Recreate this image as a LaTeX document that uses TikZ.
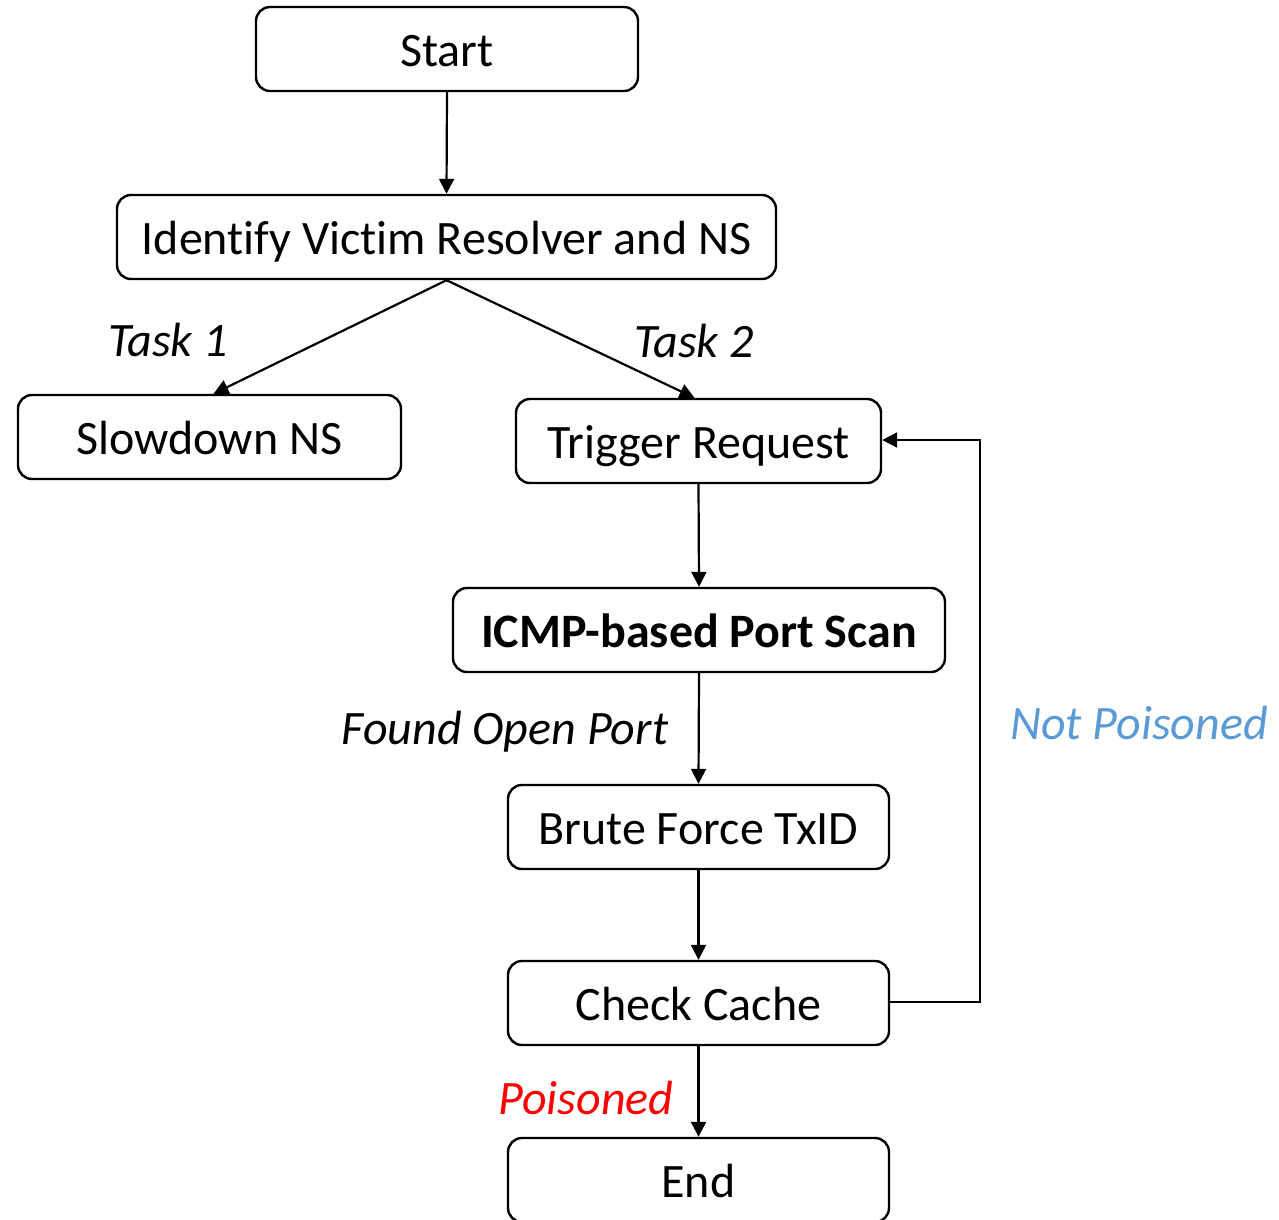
\documentclass[tikz,border=0pt]{standalone}
\usepackage{fontspec}
\setmainfont[Ligatures=NoCommon]{Carlito}
\usetikzlibrary{arrows.meta}
\definecolor{notpois}{RGB}{91,155,213}
\begin{document}
\begin{tikzpicture}[x=1pt,y=-1pt,
  box/.style={draw=black, line width=2.4pt, rounded corners=14pt, inner sep=0pt,
    minimum height=84pt, font=\fontsize{48}{58}\selectfont, text=black,
    text height=38pt, text depth=3pt},
  lbl/.style={inner sep=0pt, font=\fontsize{48}{58}\selectfont\itshape},
  arr/.style={line width=2.2pt, -{Triangle[length=15pt,width=15pt]}}]
\useasboundingbox (0,0) rectangle (1279,1220);

% process boxes
\node[box, minimum width=382pt] (start) at (447,49) {Start};
\node[box, minimum width=659pt] (ident) at (446.5,237) {Identify Victim Resolver and NS};
\node[box, minimum width=383pt] (slow) at (209.5,437) {Slowdown NS};
\node[box, minimum width=365pt] (trig) at (698.5,441) {Trigger Request};
\node[box, minimum width=492pt, font=\fontsize{48}{58}\selectfont\bfseries] (icmp) at (699,630) {ICMP-based Port Scan};
\node[box, minimum width=381pt] (brute) at (698.5,827) {Brute Force TxID};
\node[box, minimum width=381pt] (check) at (698.5,1003) {Check Cache};
\node[box, minimum width=381pt] (end) at (698.5,1180) {End};

% connectors
\coordinate (split) at (ident.south);
\coordinate (loop1) at (980,1002);
\coordinate (loop2) at (980,440);
\draw[arr] (start.south) -- (ident.north);
\draw[arr] (split) -- ([xshift=4pt]slow.north);
\draw[arr] (split) -- ([xshift=-4pt]trig.north);
\draw[arr] (trig.south) -- (icmp.north);
\draw[arr] (icmp.south) -- (brute.north);
\draw[arr] (brute.south) -- (check.north);
\draw[arr] (check.south) -- (end.north);
\draw[arr] (check.east |- loop1) -- (loop1) -- (loop2) -- (trig.east |- loop2);

% branch labels
\node[lbl] (t1) at (168,340) {Task 1};
\node[lbl] (t2) at (694,341) {Task 2};
\node[lbl] (found) at (505,732) {Found Open Port};
\node[lbl, text=notpois] (np) at (1139,723) {Not Poisoned};
\node[lbl, text=red] (pois) at (586,1098) {Poisoned};
\end{tikzpicture}
\end{document}
